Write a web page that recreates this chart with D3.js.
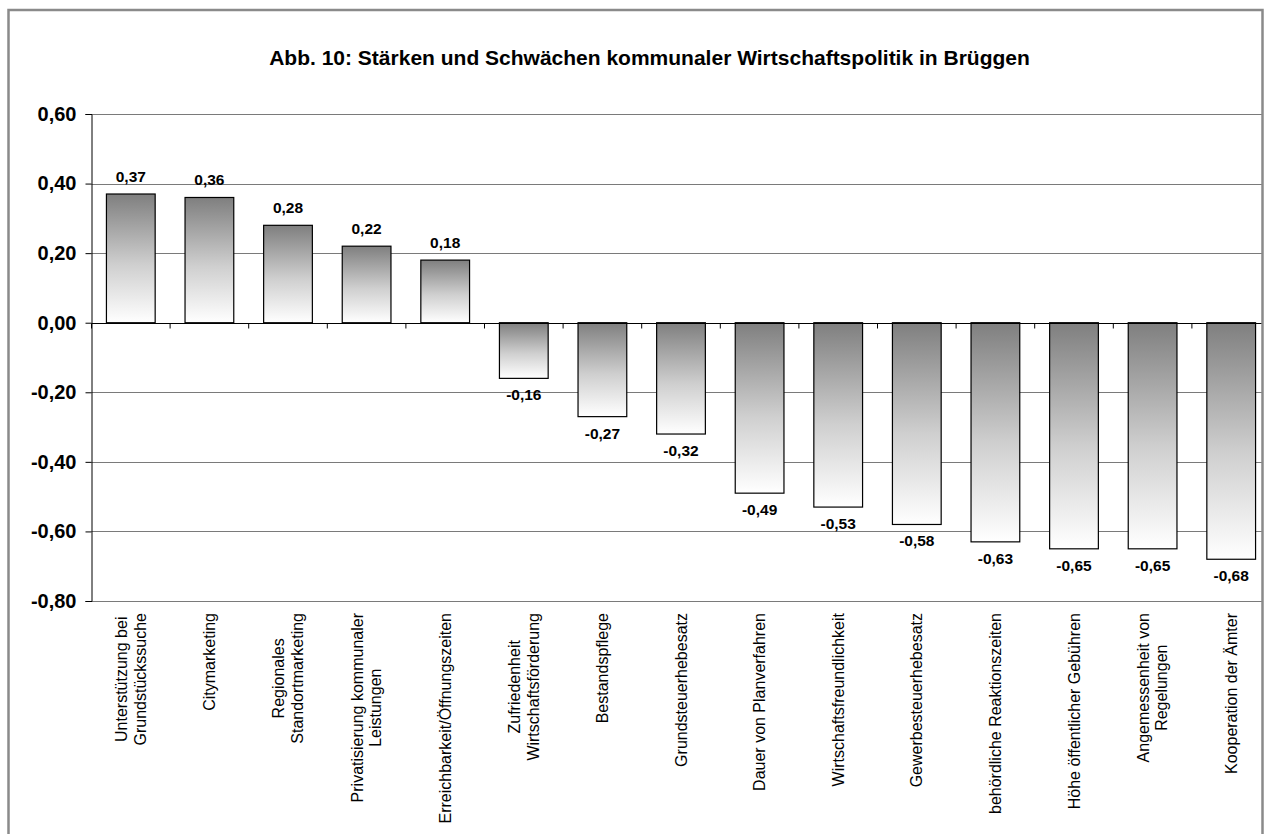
<!DOCTYPE html>
<html>
<head>
<meta charset="utf-8">
<script src="https://cdn.jsdelivr.net/npm/d3@7"></script>
<style>
  body { margin: 0; background: #fff; }
  text { font-family: "Liberation Sans", Arial, sans-serif; }
</style>
</head>
<body>
<div id="chart"></div>
<script>
// Kategorien (Zeilenumbrüche wie im Original)
var kategorien = [
  ["Unterstützung bei", "Grundstückssuche"],
  ["Citymarketing"],
  ["Regionales", "Standortmarketing"],
  ["Privatisierung kommunaler", "Leistungen"],
  ["Erreichbarkeit/Öffnungszeiten"],
  ["Zufriedenheit", "Wirtschaftsförderung"],
  ["Bestandspflege"],
  ["Grundsteuerhebesatz"],
  ["Dauer von Planverfahren"],
  ["Wirtschaftsfreundlichkeit"],
  ["Gewerbesteuerhebesatz"],
  ["behördliche Reaktionszeiten"],
  ["Höhe öffentlicher Gebühren"],
  ["Angemessenheit von", "Regelungen"],
  ["Kooperation der Ämter"]
]
var werte = [0.37, 0.36, 0.28, 0.22, 0.18, -0.16, -0.27, -0.32, -0.49, -0.53, -0.58, -0.63, -0.65, -0.65, -0.68]
var yTicks = [0.6, 0.4, 0.2, 0, -0.2, -0.4, -0.6, -0.8]
var titel = "Abb. 10: Stärken und Schwächen kommunaler Wirtschaftspolitik in Brüggen"

drawChart()

function drawChart() {
  var width = 1266, height = 834
  var plotLeft = 91.5, plotTop = 114, plotBottom = 601, plotRight = 1262
  var step = 78.6

  var svg = d3.select("#chart").append("svg")
    .attr("width", width)
    .attr("height", height)

  svg.append("rect").attr("width", width).attr("height", height).attr("fill", "#fff")

  // gradient fuer die Balken
  var defs = svg.append("defs")
  var grad = defs.append("linearGradient")
    .attr("id", "balken")
    .attr("x1", 0).attr("y1", 0).attr("x2", 0).attr("y2", 1)
  grad.append("stop").attr("offset", "0%").attr("stop-color", "#7f7f7f")
  grad.append("stop").attr("offset", "55%").attr("stop-color", "#cfcfcf")
  grad.append("stop").attr("offset", "100%").attr("stop-color", "#ffffff")

  defs.append("clipPath").attr("id", "clip")
    .append("rect").attr("x", 0).attr("y", 0).attr("width", plotRight).attr("height", height)

  var keys = kategorien.map(function(d, i) { return "k" + i })

  var x = d3.scaleBand()
    .domain(keys)
    .range([plotLeft, plotLeft + step * keys.length])
    .paddingInner(0.38)
    .paddingOuter(0.19)

  var y = d3.scaleLinear()
    .domain([-0.8, 0.6])
    .range([plotBottom, plotTop])

  var fmt = function(v) { return d3.format(".2f")(v).replace(".", ",").replace("−", "-") }

  var plot = svg.append("g").attr("clip-path", "url(#clip)")

  // Gitterlinien
  plot.selectAll(".grid")
    .data(yTicks.filter(function(d) { return d != 0 }))
    .enter()
    .append("line")
    .attr("x1", plotLeft).attr("x2", plotRight)
    .attr("y1", function(d) { return Math.round(y(d)) + 0.5 })
    .attr("y2", function(d) { return Math.round(y(d)) + 0.5 })
    .attr("stroke", "#7a7a7a")
    .attr("stroke-width", 1)

  // Balken
  plot.selectAll(".bar")
    .data(werte)
    .enter()
    .append("rect")
    .attr("x", function(d, i) { return x(keys[i]) })
    .attr("y", function(d) { return y(Math.max(0, d)) })
    .attr("width", x.bandwidth())
    .attr("height", function(d) { return Math.abs(y(d) - y(0)) })
    .attr("fill", "url(#balken)")
    .attr("stroke", "#000")
    .attr("stroke-width", 1.2)

  // Nulllinie mit Teilstrichen
  var y0 = Math.round(y(0)) + 0.5
  plot.append("line")
    .attr("x1", plotLeft).attr("x2", plotRight)
    .attr("y1", y0).attr("y2", y0)
    .attr("stroke", "#000")
  plot.selectAll(".xtick")
    .data(d3.range(keys.length + 1))
    .enter()
    .append("line")
    .attr("x1", function(d) { return plotLeft + d * step })
    .attr("x2", function(d) { return plotLeft + d * step })
    .attr("y1", y0).attr("y2", y0 + 5)
    .attr("stroke", "#000")

  // Y Achse
  var yAxis = svg.append("g")
    .attr("transform", "translate(" + plotLeft + ",0)")
    .call(d3.axisLeft(y).tickValues(yTicks).tickSize(6).tickFormat(fmt))
  yAxis.select(".domain").attr("stroke", "#000")
  yAxis.selectAll("text")
    .attr("x", -15)
    .style("font-family", "'Liberation Sans', Arial, sans-serif")
    .style("font-size", "20px")
    .style("font-weight", "bold")
    .attr("fill", "#000")

  // Werte an den Balken
  svg.selectAll(".wert")
    .data(werte)
    .enter()
    .append("text")
    .attr("x", function(d, i) { return x(keys[i]) + x.bandwidth() / 2 })
    .attr("y", function(d) { return d >= 0 ? y(d) - 12 : y(d) + 22 })
    .attr("text-anchor", "middle")
    .style("font-size", "15.5px")
    .style("font-weight", "bold")
    .text(fmt)

  // Kategorie-Beschriftungen (gedreht, mehrzeilig zentriert)
  var labelTop = 613
  kategorien.forEach(function(lines, i) {
    var cx = x(keys[i]) + x.bandwidth() / 2
    var g = svg.append("g")
      .attr("transform", "translate(" + cx + "," + labelTop + ") rotate(-90)")
    var texts = g.selectAll("text")
      .data(lines)
      .enter()
      .append("text")
      .attr("text-anchor", "middle")
      .attr("y", function(d, j) { return (j - (lines.length - 1) / 2) * 18.5 + 5.5 })
      .style("font-size", "16px")
      .text(function(d) { return d })
    var maxLen = d3.max(texts.nodes(), function(n) { return n.getComputedTextLength() })
    texts.attr("x", -maxLen / 2)
  })

  // Titel
  svg.append("text")
    .attr("x", 649.5)
    .attr("y", 65)
    .attr("text-anchor", "middle")
    .style("font-size", "21px")
    .style("font-weight", "bold")
    .text(titel)

  // Rahmen
  svg.append("rect")
    .attr("x", 8.5).attr("y", 10)
    .attr("width", 1254).attr("height", 900)
    .attr("fill", "none")
    .attr("stroke", "#8a8a8a")
    .attr("stroke-width", 2.5)
}
</script>
</body>
</html>
